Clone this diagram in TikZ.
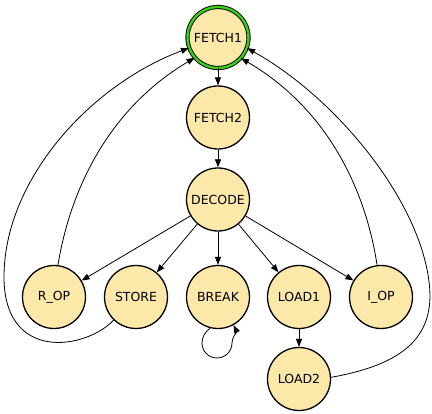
\documentclass[tikz,border=0pt]{standalone}
\usepackage{fontspec}
\setmainfont{DejaVu Sans}
\usetikzlibrary{arrows.meta}
\definecolor{nodefill}{RGB}{252,233,170}
\definecolor{ringgreen}{RGB}{60,205,20}
\begin{document}
\begin{tikzpicture}[x=1pt,y=-1pt,
  state/.style={circle,draw=black,line width=1.3pt,fill=nodefill,minimum size=63pt,inner sep=0pt,font=\fontsize{12.5}{15}\selectfont},
  startstate/.style={state,line width=0.9pt,double=ringgreen,double distance=2.4pt,minimum size=61pt},
  arr/.style={line width=0.8pt,-{Triangle[length=8pt,width=6pt]}}]
\useasboundingbox (0,0) rectangle (432,414);
\node[startstate] (f1) at (218,37.5) {FETCH1};
\node[state] (f2) at (218,117.5) {FETCH2};
\node[state] (dec) at (218,199.5) {DECODE};
\node[state] (rop) at (54,297) {R\_OP};
\node[state] (sto) at (136,297) {STORE};
\node[state] (brk) at (218,297) {BREAK};
\node[state] (l1) at (299,297) {LOAD1};
\node[state] (iop) at (381,297) {I\_OP};
\node[state] (l2) at (299,379) {LOAD2};
\draw[arr] (f1) -- (f2);
\draw[arr] (f2) -- (dec);
\draw[arr] (dec) -- (rop);
\draw[arr] (dec) -- (sto);
\draw[arr] (dec) -- (brk);
\draw[arr] (dec) -- (l1);
\draw[arr] (dec) -- (iop);
\draw[arr] (l1) -- (l2);
\coordinate (lp1) at (202,343);
\coordinate (lp2) at (217,358);
\coordinate (lp3) at (232,343);
\draw[arr] (brk.-104) .. controls (205,332) and (202,337) .. (lp1)
  .. controls (202,351.3) and (208.7,358) .. (lp2)
  .. controls (225.3,358) and (232,351.3) .. (lp3)
  .. controls (232,337) and (237,332) .. (brk.-61);
\draw[arr] (rop.83) .. controls (72,180) and (115,105) .. (f1.221);
\draw[arr] (iop.97) .. controls (364,180) and (321,105) .. (f1.318);
\coordinate (lw) at (4,277);
\draw[arr] (sto.226) .. controls (85,350) and (4,362) .. (lw) .. controls (4,180) and (90,85) .. (f1.200);
\coordinate (rw) at (430,295);
\draw[arr] (l2.3) .. controls (400,365) and (430,340) .. (rw) .. controls (428,210) and (340,100) .. (f1.340);
\end{tikzpicture}
\end{document}
